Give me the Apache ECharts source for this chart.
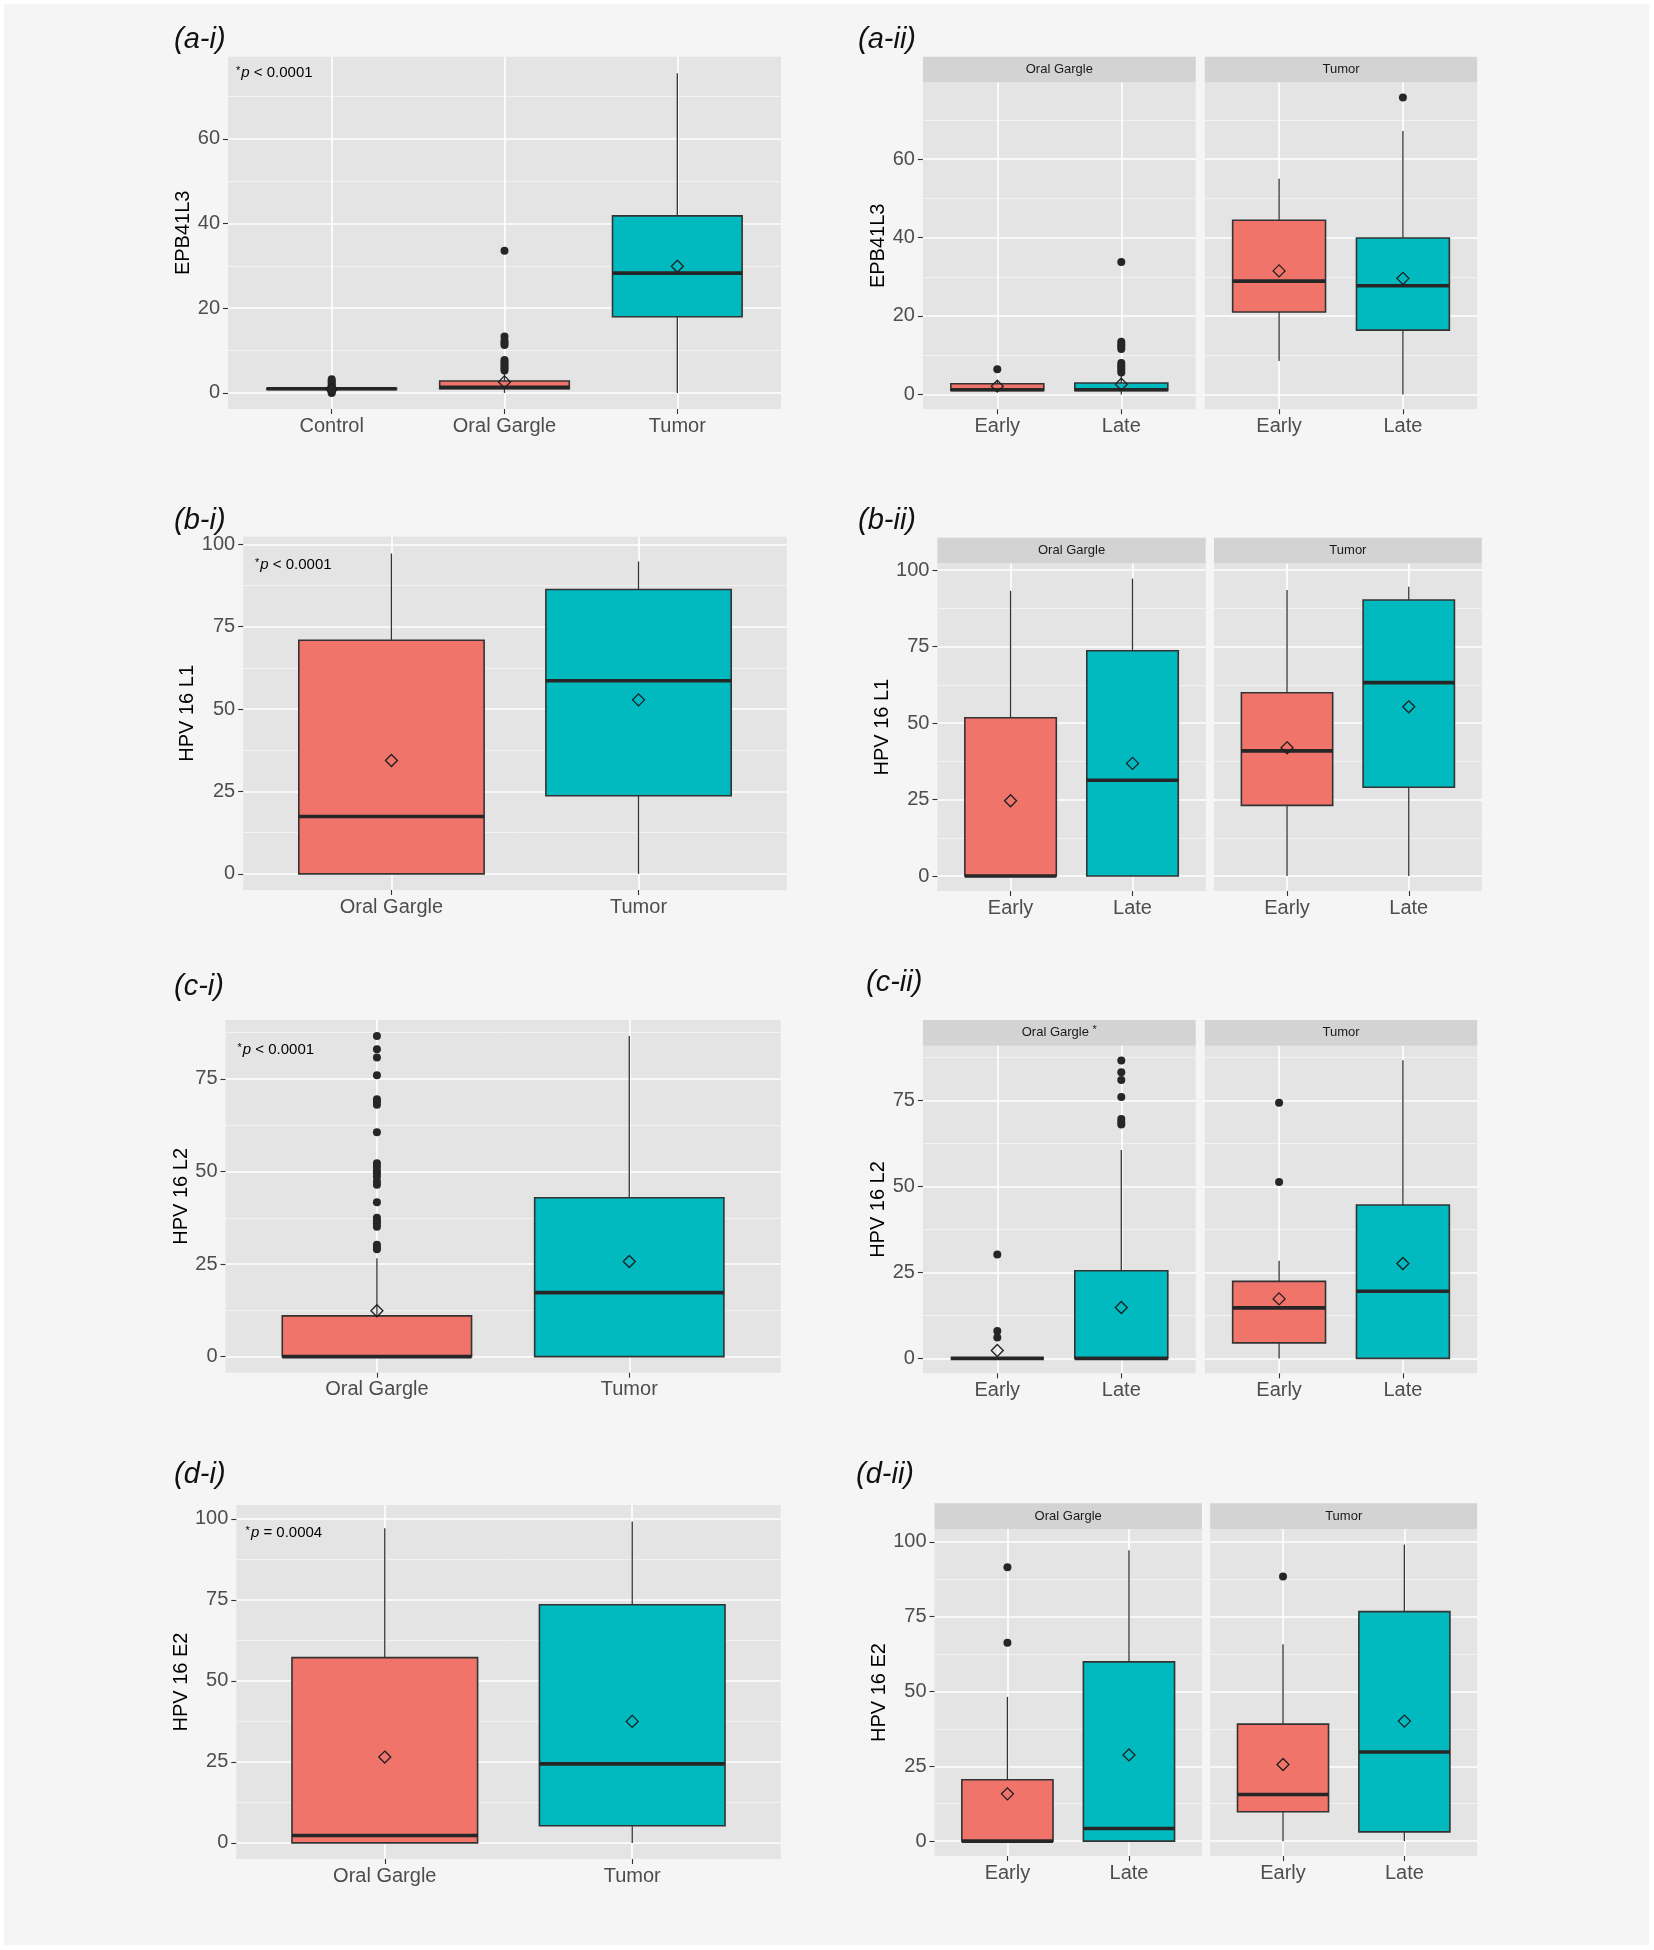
<!DOCTYPE html>
<html>
<head>
<meta charset="utf-8">
<script src="https://cdn.jsdelivr.net/npm/echarts@6/dist/echarts.min.js"></script>
<style>
  html, body { margin: 0; padding: 0; background: #fff; }
  #chart { width: 1654px; height: 1950px; }
</style>
</head>
<body>
<div id="chart"></div>
<script>
// boxes are [min, q1, median, q3, max]
const groups3 = ['Control', 'Oral Gargle', 'Tumor'];
const groups2 = ['Oral Gargle', 'Tumor'];
const stages = ['Early', 'Late'];

// (a) EPB41L3
const aBox = [[0.8, 0.8, 1.0, 1.1, 1.1], [0, 1.0, 1.3, 2.8, 4.8], [0, 18.0, 28.3, 41.8, 75.5]];
const aMean = [0.9, 2.6, 29.9];
const aOut = [[0, 0.2, 0.4, 1.6, 2.0, 2.4, 2.8, 3.2], [5.3, 5.8, 6.3, 6.8, 7.3, 7.8, 11.3, 11.8, 12.3, 13.3, 33.6], []];
const aGargleBox = [[0.6, 1.0, 1.2, 2.7, 3.5], [0, 1.0, 1.2, 2.9, 5.0]];
const aGargleMean = [2.1, 2.6];
const aGargleOut = [[6.4], [5.6, 6.2, 6.8, 7.4, 8.0, 11.6, 12.2, 12.8, 13.4, 33.8]];
const aTumorBox = [[8.5, 21.0, 28.9, 44.4, 55.0], [0, 16.4, 27.7, 39.9, 67.2]];
const aTumorMean = [31.5, 29.6];
const aTumorOut = [[], [75.7]];

// (b) HPV 16 L1
const bBox = [[0, 0, 17.4, 70.9, 97.2], [0, 23.7, 58.6, 86.3, 94.8]];
const bMean = [34.4, 52.8];
const bGargleBox = [[0, 0, 0, 51.7, 93.2], [0, 0, 31.3, 73.6, 97.2]];
const bGargleMean = [24.6, 36.8];
const bTumorBox = [[0, 23.1, 40.9, 59.9, 93.5], [0, 29.0, 63.2, 90.2, 94.5]];
const bTumorMean = [41.9, 55.3];

// (c) HPV 16 L2
const cBox = [[0, 0, 0, 11.0, 26.6], [0, 0, 17.3, 42.9, 86.6]];
const cMean = [12.4, 25.7];
const cOut = [[86.6, 83.0, 80.8, 76.0, 69.5, 68.9, 68.0, 60.6, 52.2, 51.3, 50.2, 49.5, 48.6, 47.3, 46.4, 41.7, 37.5, 36.7, 36.0, 35.1, 30.2, 29.5, 29.0], []];
const cGargleBox = [[0, 0, 0, 0, 0], [0, 0, 0, 25.5, 60.6]];
const cGargleMean = [2.3, 14.8];
const cGargleOut = [[30.2, 8.0, 6.1], [86.6, 83.2, 80.9, 76.0, 69.6, 68.7, 68.0]];
const cTumorBox = [[0, 4.5, 14.7, 22.4, 28.4], [0, 0, 19.5, 44.6, 86.7]];
const cTumorMean = [17.3, 27.6];
const cTumorOut = [[74.3, 51.3], []];

// (d) HPV 16 E2
const dBox = [[0, 0, 2.3, 57.2, 97.1], [0, 5.3, 24.4, 73.5, 99.2]];
const dMean = [26.5, 37.5];
const dGargleBox = [[0, 0, 0, 20.5, 48.2], [0, 0, 4.2, 59.9, 97.2]];
const dGargleMean = [15.8, 28.8];
const dGargleOut = [[91.5, 66.3], []];
const dTumorBox = [[0, 9.8, 15.6, 39.1, 65.8], [0, 3.1, 29.8, 76.7, 99.1]];
const dTumorMean = [25.6, 40.1];
const dTumorOut = [[88.4], []];

const ticks20 = [0, 20, 40, 60];
const minor20 = [10, 30, 50, 70];
const ticks25 = [0, 25, 50, 75, 100];
const ticks25c = [0, 25, 50, 75];
const minor25 = [12.5, 37.5, 62.5, 87.5];

const RED = '#F1746B';
const TEAL = '#00BAC0';
const DARK = '#333333';
const FONT = '"Liberation Sans", Arial, sans-serif';

const chart = echarts.init(document.getElementById('chart'));
const option = {
  animation: false,
  backgroundColor: '#ffffff',
  grid: [], xAxis: [], yAxis: [], series: [],
  graphic: [{
    type: 'rect', z: -10, silent: true,
    shape: { x: 4, y: 4, width: 1645, height: 1941 },
    style: { fill: '#f5f5f5' }
  }]
};

// box + whiskers + thick median, positioned by the axis scales
const makeRender = (boxes, fills) => (params, api) => {
  const i = params.dataIndex;
  const x = api.value(0);
  const b = boxes[i];
  const pMin = api.coord([x, b[0]]);
  const pQ1 = api.coord([x, b[1]]);
  const pMed = api.coord([x, b[2]]);
  const pQ3 = api.coord([x, b[3]]);
  const pMax = api.coord([x, b[4]]);
  const half = api.size([0.75, 0])[0] / 2;
  return {
    type: 'group',
    children: [
      { type: 'line', shape: { x1: pMax[0], y1: pMax[1], x2: pQ3[0], y2: pQ3[1] }, style: { stroke: DARK, lineWidth: 1.3 } },
      { type: 'line', shape: { x1: pQ1[0], y1: pQ1[1], x2: pMin[0], y2: pMin[1] }, style: { stroke: DARK, lineWidth: 1.3 } },
      { type: 'rect', shape: { x: pQ3[0] - half, y: pQ3[1], width: half * 2, height: pQ1[1] - pQ3[1] },
        style: { fill: fills[i], stroke: DARK, lineWidth: 1.6 } },
      { type: 'line', shape: { x1: pMed[0] - half, y1: pMed[1], x2: pMed[0] + half, y2: pMed[1] },
        style: { stroke: '#262626', lineWidth: 3.6 } }
    ]
  };
};

function addPanel(p) {
  const gi = option.grid.length;
  const [left, top, width, height] = p.rect;
  const idx = p.cats.map((c, i) => i + 1);
  option.grid.push({ left, top, width, height, show: true, backgroundColor: '#e4e4e4', borderWidth: 0 });
  option.xAxis.push({
    gridIndex: gi, type: 'value', position: 'bottom', min: 0.4, max: p.cats.length + 0.6,
    axisLine: { show: false, onZero: false },
    axisTick: { show: true, customValues: idx, length: 5, lineStyle: { color: DARK, width: 1.1 } },
    axisLabel: { customValues: idx, margin: 7, color: '#4d4d4d', fontSize: 20, fontFamily: FONT,
      formatter: v => p.cats[Math.round(v) - 1] },
    splitLine: { show: true, lineStyle: { color: '#ffffff', width: 1.6 } }
  });
  const yi = option.yAxis.length;
  option.yAxis.push({
    gridIndex: gi, type: 'value', min: p.y[0], max: p.y[1],
    name: p.yName || '', nameLocation: 'middle', nameRotate: 90, nameGap: p.nameGap || 30,
    nameTextStyle: { color: '#000', fontSize: 20, fontFamily: FONT },
    axisLine: { show: false, onZero: false },
    axisTick: { show: !!p.yName, customValues: p.ticks, length: 5, lineStyle: { color: DARK, width: 1.1 } },
    axisLabel: { show: !!p.yName, customValues: p.ticks, margin: 8, color: '#4d4d4d', fontSize: 20, fontFamily: FONT },
    splitLine: { show: true, lineStyle: { color: '#ffffff', width: 1.6 } }
  });
  option.yAxis.push({
    gridIndex: gi, type: 'value', min: p.y[0], max: p.y[1],
    axisLine: { show: false, onZero: false }, axisLabel: { show: false },
    axisTick: { show: false, customValues: p.minor },
    splitLine: { show: true, lineStyle: { color: '#f3f3f3', width: 0.9 } }
  });
  option.series.push({
    type: 'custom', xAxisIndex: gi, yAxisIndex: yi, z: 2,
    renderItem: makeRender(p.box, p.fills),
    encode: { x: 0, y: [1, 2, 3, 4, 5] },
    data: p.box.map((b, i) => [i + 1, ...b])
  });
  if (p.out) {
    option.series.push({
      type: 'scatter', xAxisIndex: gi, yAxisIndex: yi, z: 3,
      symbol: 'circle', symbolSize: 8,
      itemStyle: { color: '#262626', opacity: 1 },
      data: p.out.flatMap((arr, i) => arr.map(v => [i + 1, v]))
    });
  }
  option.series.push({
    type: 'scatter', xAxisIndex: gi, yAxisIndex: yi, z: 4,
    symbol: 'diamond', symbolSize: 12,
    itemStyle: { color: 'rgba(0,0,0,0)', borderColor: '#1f1f1f', borderWidth: 1.3, opacity: 1 },
    data: p.mean.map((m, i) => [i + 1, m])
  });
}

function addStrip(rect, y, h, label) {
  option.graphic.push({
    type: 'rect', silent: true, z: 1,
    shape: { x: rect[0], y: y, width: rect[2], height: h },
    style: { fill: '#d3d3d3' }
  });
  option.graphic.push({
    type: 'text', silent: true, z: 2,
    style: {
      x: rect[0] + rect[2] / 2, y: y + h / 2, text: label,
      align: 'center', verticalAlign: 'middle',
      fill: '#1a1a1a', font: '13px ' + FONT,
      rich: { s: { fontSize: 11, fill: '#1a1a1a', verticalAlign: 'top', padding: [0, 0, 6, 0] } }
    }
  });
}

function addLabel(x, y, text) {
  option.graphic.push({
    type: 'text', silent: true,
    style: { x, y, text, verticalAlign: 'middle', fill: '#111', font: 'italic 29px ' + FONT }
  });
}

function addP(x, y, rel, val) {
  option.graphic.push({
    type: 'text', silent: true, z: 5,
    style: {
      x, y, text: '{s|*}{i|p}{n| ' + rel + ' ' + val + '}', verticalAlign: 'middle',
      rich: {
        s: { fontSize: 11, fill: '#000', fontFamily: FONT, padding: [0, 1, 5, 0] },
        i: { fontSize: 15, fill: '#000', fontFamily: FONT, fontStyle: 'italic' },
        n: { fontSize: 15, fill: '#000', fontFamily: FONT }
      }
    }
  });
}

// ---- (a) ----
addPanel({ rect: [228, 56.7, 553, 352.3], cats: groups3, y: [-3.8, 79.4], ticks: ticks20, minor: minor20,
  box: aBox, mean: aMean, out: aOut, fills: ['#555555', RED, TEAL], yName: 'EPB41L3', nameGap: 32 });
const aL = [922.9, 82.3, 272.8, 327], aR = [1204.8, 82.3, 272.4, 327];
addPanel({ rect: aL, cats: stages, y: [-3.8, 79.6], ticks: ticks20, minor: minor20,
  box: aGargleBox, mean: aGargleMean, out: aGargleOut, fills: [RED, TEAL], yName: 'EPB41L3', nameGap: 31 });
addPanel({ rect: aR, cats: stages, y: [-3.8, 79.6], ticks: ticks20, minor: minor20,
  box: aTumorBox, mean: aTumorMean, out: aTumorOut, fills: [RED, TEAL] });
addStrip(aL, 56.7, 25.6, 'Oral Gargle');
addStrip(aR, 56.7, 25.6, 'Tumor');
addLabel(174, 40, '(a-i)');
addLabel(858, 40, '(a-ii)');
addP(236, 73, '<', '0.0001');

// ---- (b) ----
addPanel({ rect: [243.2, 536.7, 543.6, 353.3], cats: groups2, y: [-4.9, 102.3], ticks: ticks25, minor: minor25,
  box: bBox, mean: bMean, fills: [RED, TEAL], yName: 'HPV 16 L1', nameGap: 42 });
const bL = [937.4, 563.3, 268.3, 327.7], bR = [1214, 563.3, 267.8, 327.7];
addPanel({ rect: bL, cats: stages, y: [-4.9, 102.2], ticks: ticks25, minor: minor25,
  box: bGargleBox, mean: bGargleMean, fills: [RED, TEAL], yName: 'HPV 16 L1', nameGap: 39 });
addPanel({ rect: bR, cats: stages, y: [-4.9, 102.2], ticks: ticks25, minor: minor25,
  box: bTumorBox, mean: bTumorMean, fills: [RED, TEAL] });
addStrip(bL, 537.7, 25.6, 'Oral Gargle');
addStrip(bR, 537.7, 25.6, 'Tumor');
addLabel(174, 521, '(b-i)');
addLabel(858, 521, '(b-ii)');
addP(255, 565, '<', '0.0001');

// ---- (c) ----
addPanel({ rect: [225.5, 1020, 555.2, 352.7], cats: groups2, y: [-4.33, 90.9], ticks: ticks25c, minor: minor25,
  box: cBox, mean: cMean, out: cOut, fills: [RED, TEAL], yName: 'HPV 16 L2', nameGap: 32 });
const cL = [922.9, 1045.7, 272.8, 327.6], cR = [1204.8, 1045.7, 272.4, 327.6];
addPanel({ rect: cL, cats: stages, y: [-4.33, 90.9], ticks: ticks25c, minor: minor25,
  box: cGargleBox, mean: cGargleMean, out: cGargleOut, fills: [RED, TEAL], yName: 'HPV 16 L2', nameGap: 31 });
addPanel({ rect: cR, cats: stages, y: [-4.33, 90.9], ticks: ticks25c, minor: minor25,
  box: cTumorBox, mean: cTumorMean, out: cTumorOut, fills: [RED, TEAL] });
addStrip(cL, 1020, 25.7, 'Oral Gargle {s|*}');
addStrip(cR, 1020, 25.7, 'Tumor');
addLabel(174, 987, '(c-i)');
addLabel(866, 983, '(c-ii)');
addP(237.5, 1050, '<', '0.0001');

// ---- (d) ----
addPanel({ rect: [236.3, 1505, 544.4, 354], cats: groups2, y: [-4.97, 104.3], ticks: ticks25, minor: minor25,
  box: dBox, mean: dMean, fills: [RED, TEAL], yName: 'HPV 16 E2', nameGap: 43 });
const dL = [934.5, 1529, 267.4, 327], dR = [1210.2, 1529, 267, 327];
addPanel({ rect: dL, cats: stages, y: [-4.97, 104.3], ticks: ticks25, minor: minor25,
  box: dGargleBox, mean: dGargleMean, out: dGargleOut, fills: [RED, TEAL], yName: 'HPV 16 E2', nameGap: 42 });
addPanel({ rect: dR, cats: stages, y: [-4.97, 104.3], ticks: ticks25, minor: minor25,
  box: dTumorBox, mean: dTumorMean, out: dTumorOut, fills: [RED, TEAL] });
addStrip(dL, 1503.3, 25.7, 'Oral Gargle');
addStrip(dR, 1503.3, 25.7, 'Tumor');
addLabel(174, 1475, '(d-i)');
addLabel(856, 1475, '(d-ii)');
addP(245.6, 1533, '=', '0.0004');

chart.setOption(option);
</script>
</body>
</html>
